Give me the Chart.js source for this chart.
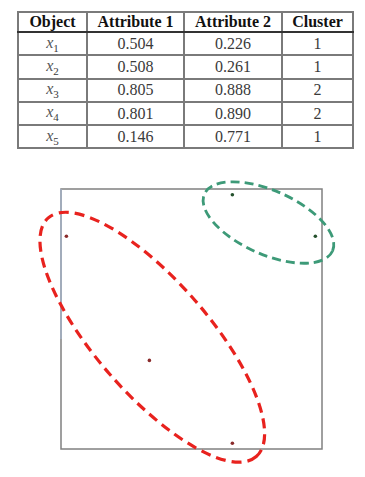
<!DOCTYPE html>
<html>
<head>
<meta charset="utf-8">
<script src="https://cdn.jsdelivr.net/npm/chart.js@4"></script>
<style>
  body { margin: 0; width: 365px; height: 477px; background: #fff; position: relative; overflow: hidden; }
  table { position: absolute; left: 17px; top: 11px; border-collapse: collapse; font-family: "Liberation Serif", "Times New Roman", serif; font-size: 16px; color: #3a3a3a; }
  td, th { border: 2px solid #7a7a7a; text-align: center; padding: 0; font-family: "Liberation Serif", serif; }
  th { height: 18px; color: #111; font-weight: bold; border-bottom-color: #333; }
  td { height: 21.3px; }
  td i { color: #555; }
  td sub { font-size: 11px; }
  #wrap { position: absolute; left: 0; top: 160px; width: 365px; height: 317px; }
</style>
</head>
<body>
<table id="tbl"></table>
<div id="wrap"><canvas id="c"></canvas></div>
<script>
// table data
const headers = ['Object', 'Attribute 1', 'Attribute 2', 'Cluster'];
const objects = ['1', '2', '3', '4', '5'];
const attr1 = ['0.504', '0.508', '0.805', '0.801', '0.146'];
const attr2 = ['0.226', '0.261', '0.888', '0.890', '0.771'];
const clusters = ['1', '1', '2', '2', '1'];
const colWidths = [67, 95, 96, 69];

// scatter data
const redX = [1, 3, 5];
const redY = [6, 3, 1];
const greenX = [5, 7];
const greenY = [7, 6];

// ellipses in data units: center, semi axes, angle (deg)
const ellCx = [3.07, 5.87];
const ellCy = [3.56, 6.33];
const ellA = [3.82, 1.69];
const ellB = [1.36, 0.77];
const ellAngle = [-49, -24];

const tbl = document.getElementById('tbl');
let html = '<tr>' + headers.map((h, i) => `<th style="width:${colWidths[i]}px">${h}</th>`).join('') + '</tr>';
objects.forEach((o, i) => {
  html += `<tr><td><i>x</i><sub>${o}</sub></td><td>${attr1[i]}</td><td>${attr2[i]}</td><td>${clusters[i]}</td></tr>`;
});
tbl.innerHTML = html;

const ellColors = ['#e8221e', '#3d9a78'];
const ellDash = [[10, 6], [9, 5]];
const ellWidth = [3.2, 2.8];

const framePlugin = {
  id: 'frame',
  beforeDatasetsDraw(chart) {
    const { ctx, chartArea: a } = chart;
    ctx.save();
    ctx.lineWidth = 1.5;
    ctx.strokeStyle = '#808080';
    ctx.strokeRect(a.left, a.top, a.right - a.left, a.bottom - a.top);
    ctx.strokeStyle = '#a3b0c4';
    ctx.beginPath();
    ctx.moveTo(a.left, a.top);
    ctx.lineTo(a.left, a.top + 150);
    ctx.stroke();
    ctx.restore();
  },
  afterDatasetsDraw(chart) {
    const { ctx } = chart;
    const xs = chart.scales.x, ys = chart.scales.y;
    ctx.save();
    ellCx.forEach((cx, i) => {
      const t = ellAngle[i] * Math.PI / 180;
      const px = xs.getPixelForValue(cx), py = ys.getPixelForValue(ellCy[i]);
      const mx = xs.getPixelForValue(cx + ellA[i] * Math.cos(t)) - px;
      const my = ys.getPixelForValue(ellCy[i] + ellA[i] * Math.sin(t)) - py;
      const nx = xs.getPixelForValue(cx - ellB[i] * Math.sin(t)) - px;
      const ny = ys.getPixelForValue(ellCy[i] + ellB[i] * Math.cos(t)) - py;
      ctx.beginPath();
      ctx.ellipse(px, py, Math.hypot(mx, my), Math.hypot(nx, ny), Math.atan2(my, mx), 0, Math.PI * 2);
      ctx.setLineDash(ellDash[i]);
      ctx.lineWidth = ellWidth[i];
      ctx.strokeStyle = ellColors[i];
      ctx.stroke();
    });
    ctx.restore();
  }
};

new Chart(document.getElementById('c'), {
  type: 'scatter',
  data: {
    datasets: [
      { data: redX.map((x, i) => ({ x, y: redY[i] })), backgroundColor: '#8a2b2b', borderWidth: 0, pointRadius: 1.8, clip: false },
      { data: greenX.map((x, i) => ({ x, y: greenY[i] })), backgroundColor: '#24502c', borderWidth: 0, pointRadius: 1.8, clip: false }
    ]
  },
  plugins: [framePlugin],
  options: {
    responsive: true,
    maintainAspectRatio: false,
    animation: false,
    layout: { padding: { left: 61, right: 43, top: 29, bottom: 28 } },
    plugins: { legend: { display: false }, tooltip: { enabled: false } },
    scales: {
      x: { display: false, min: 0.87, max: 7.16 },
      y: { display: false, min: 0.86, max: 7.14 }
    }
  }
});
</script>
</body>
</html>
